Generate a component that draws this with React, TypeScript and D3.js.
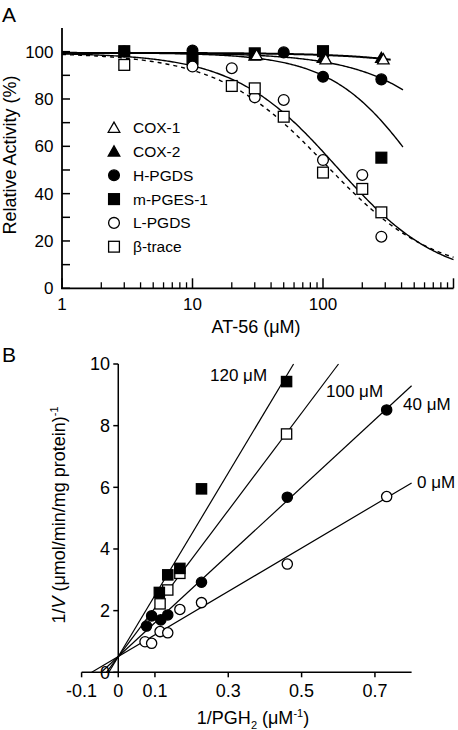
import React from 'react';
import * as d3 from 'd3';

// ---------- Panel A data ----------
const cox1X = [31, 105, 290];
const cox1Y = [98.6, 96.8, 96.8];
const cox2X = [30, 100, 280];
const cox2Y = [98.4, 97.4, 97.4];
const hpgdsX = [3, 10, 50, 100, 280];
const hpgdsY = [100, 100.5, 99.7, 89.4, 88.3];
const mpgesX = [3, 10, 30, 100, 280];
const mpgesY = [100.2, 97, 99.3, 100.2, 55.2];
const lpgdsX = [10, 20, 30, 50, 100, 200, 280];
const lpgdsY = [93.7, 93, 80.7, 79.6, 54.2, 47.9, 21.8];
const btraceX = [3, 20, 30, 50, 100, 200, 280];
const btraceY = [94.4, 85.5, 84.5, 72.5, 48.9, 42, 32.1];

// Hill fits (top, bottom, IC50, Hill slope, x range end, dashed)
const fitTop = [99.5, 99.5, 99.5, 99.5, 99.5];
const fitBottom = [0, 0, 0, 3, 5];
const fitIC50 = [11000, 1890, 560, 127.7, 105];
const fitHill = [1, 1.1, 1.3, 1.1, 1.05];
const fitXmax = [330, 410, 410, 1000, 1000];
const fitDashed = [false, false, false, false, true];

const legendNames = ['COX-1', 'COX-2', 'H-PGDS', 'm-PGES-1', 'L-PGDS', 'β-trace'];
const legendShapes = ['triOpen', 'triFill', 'circFill', 'sqFill', 'circOpen', 'sqOpen'];

const yTicksA = [0, 10, 20, 30, 40, 50, 60, 70, 80, 90, 100];
const xMajorA = [1, 10, 100, 1000];
const xLabelsA = ['1', '10', '100'];

// ---------- Panel B data ----------
const b0X = [0.073, 0.091, 0.114, 0.135, 0.168, 0.227, 0.461, 0.732];
const b0Y = [0.99, 0.94, 1.32, 1.28, 2.04, 2.26, 3.51, 5.70];
const b40X = [0.077, 0.091, 0.116, 0.135, 0.227, 0.461, 0.732];
const b40Y = [1.50, 1.83, 1.70, 1.86, 2.92, 5.68, 8.51];
const b100X = [0.114, 0.135, 0.168, 0.459];
const b100Y = [2.22, 2.67, 3.21, 7.73];
const b120X = [0.112, 0.135, 0.168, 0.227, 0.459];
const b120Y = [2.59, 3.16, 3.37, 5.95, 9.43];

const lineIntercept = 0.51;
const lineSlopes = [7.04, 10.98, 15.8, 19.85];
const lineLabels = ['0 μM', '40 μM', '100 μM', '120 μM'];

const xTicksB = [-0.1, 0, 0.1, 0.3, 0.5, 0.7];
const xTickLabelsB = ['-0.1', '0', '0.1', '0.3', '0.5', '0.7'];
const yTicksB = [0, 2, 4, 6, 8, 10];

const FONT = 'Liberation Sans, Arial, Helvetica, sans-serif';

function Marker({ shape, x, y, s = 1 }: { shape: string; x: number; y: number; s?: number }) {
  const sw = 1.3;
  if (shape === 'circFill' || shape === 'circOpen') {
    return (
      <circle cx={x} cy={y} r={5.4 * s} fill={shape === 'circFill' ? '#000' : '#fff'} stroke="#000" strokeWidth={sw} />
    );
  }
  if (shape === 'sqFill' || shape === 'sqOpen') {
    const h = 5.4 * s;
    return (
      <rect x={x - h} y={y - h} width={2 * h} height={2 * h} fill={shape === 'sqFill' ? '#000' : '#fff'} stroke="#000" strokeWidth={sw} />
    );
  }
  const w = 5.8 * s;
  const p = `M${x},${y - 5.6 * s}L${x + w},${y + 4.6 * s}L${x - w},${y + 4.6 * s}Z`;
  return <path d={p} fill={shape === 'triFill' ? '#000' : '#fff'} stroke="#000" strokeWidth={sw} strokeLinejoin="miter" />;
}

export default function App() {
  const xA = d3.scaleLog().domain([1, 1000]).range([62, 453.5]);
  const yA = d3.scaleLinear().domain([0, 110]).range([288.3, 28]);
  const xB = d3.scaleLinear().domain([-0.1, 0.8]).range([81.6, 411.6]);
  const yB = d3.scaleLinear().domain([0, 10]).range([672.3, 364]);

  const lineA = d3.line<[number, number]>().x((d) => xA(d[0])).y((d) => yA(d[1])).curve(d3.curveLinear);

  const fits = fitTop.map((top, i) => {
    const xs = d3.range(0, Math.log10(fitXmax[i]) + 1e-9, 0.01).map((e) => Math.pow(10, e));
    if (xs[xs.length - 1] < fitXmax[i]) xs.push(fitXmax[i]);
    const pts: [number, number][] = xs.map((x) => [
      x,
      fitBottom[i] + (top - fitBottom[i]) / (1 + Math.pow(x / fitIC50[i], fitHill[i])),
    ]);
    return { d: lineA(pts) || '', dashed: fitDashed[i] };
  });

  const minorA: number[] = [];
  [1, 10, 100].forEach((dec) => {
    for (let k = 2; k <= 9; k++) minorA.push(dec * k);
  });

  const seriesA = [
    { shape: 'triFill', xs: cox2X, ys: cox2Y },
    { shape: 'sqFill', xs: mpgesX, ys: mpgesY },
    { shape: 'circFill', xs: hpgdsX, ys: hpgdsY },
    { shape: 'triOpen', xs: cox1X, ys: cox1Y },
    { shape: 'circOpen', xs: lpgdsX, ys: lpgdsY },
    { shape: 'sqOpen', xs: btraceX, ys: btraceY },
  ];

  const seriesB = [
    { shape: 'circOpen', xs: b0X, ys: b0Y },
    { shape: 'circFill', xs: b40X, ys: b40Y },
    { shape: 'sqOpen', xs: b100X, ys: b100Y },
    { shape: 'sqFill', xs: b120X, ys: b120Y },
  ];

  const lineB = d3.line<[number, number]>().x((d) => xB(d[0])).y((d) => yB(d[1]));
  const linesB = lineSlopes.map((m) => {
    const x0 = -lineIntercept / m;
    const x1 = Math.min(0.8, (10 - lineIntercept) / m);
    return lineB([
      [x0, 0],
      [x1, lineIntercept + m * x1],
    ]) || '';
  });
  const labelPos: [number, number][] = [
    [417, 488],
    [403, 410],
    [326, 397],
    [210, 381],
  ];

  return (
    <svg
      width={458}
      height={730}
      viewBox="0 0 458 730"
      style={{ position: 'absolute', left: 0, top: 0, background: '#fff' }}
      fontFamily={FONT}
    >
      <rect x={0} y={0} width={458} height={730} fill="#fff" />
      {/* ---------------- Panel A ---------------- */}
      <text x={2} y={21.5} fontSize={21}>A</text>
      {/* axes */}
      <line x1={xA(1)} x2={xA(1)} y1={yA(0)} y2={yA(110)} stroke="#000" strokeWidth={1.8} />
      <line x1={xA(1) - 1} x2={xA(1000)} y1={yA(0)} y2={yA(0)} stroke="#000" strokeWidth={1.8} />
      {yTicksA.map((t) => (
        <line key={'yta' + t} x1={xA(1)} x2={xA(1) + 8} y1={yA(t)} y2={yA(t)} stroke="#000" strokeWidth={1.5} />
      ))}
      {yTicksA.filter((t) => t % 20 === 0).map((t) => (
        <text key={'ytla' + t} x={53.5} y={yA(t) + 6} fontSize={17} textAnchor="end">
          {t}
        </text>
      ))}
      {xMajorA.map((t) => (
        <line key={'xma' + t} x1={xA(t)} x2={xA(t)} y1={yA(0)} y2={yA(0) - 10} stroke="#000" strokeWidth={1.5} />
      ))}
      {minorA.map((t) => (
        <line key={'xmi' + t} x1={xA(t)} x2={xA(t)} y1={yA(0)} y2={yA(0) - 6} stroke="#000" strokeWidth={1.3} />
      ))}
      {xLabelsA.map((l, i) => (
        <text key={'xla' + l} x={xA(xMajorA[i])} y={309.5} fontSize={17} textAnchor="middle">
          {l}
        </text>
      ))}
      <text x={256} y={333} fontSize={18} textAnchor="middle">AT-56 (μM)</text>
      <text transform="translate(15.5,155) rotate(-90)" fontSize={18} textAnchor="middle">
        Relative Activity (%)
      </text>
      {/* fits */}
      {fits.map((f, i) => (
        <path
          key={'fit' + i}
          d={f.d}
          fill="none"
          stroke="#000"
          strokeWidth={i === 0 ? 2 : 1.4}
          strokeDasharray={f.dashed ? '4 4' : undefined}
        />
      ))}
      {/* points */}
      {seriesA.map((s, si) =>
        s.xs.map((x, j) => <Marker key={'pa' + si + '-' + j} shape={s.shape} x={xA(x)} y={yA(s.ys[j])} />)
      )}
      {/* legend */}
      {legendNames.map((n, i) => {
        const cy = 127.7 + i * 23.8;
        return (
          <g key={'lg' + n}>
            <Marker shape={legendShapes[i]} x={114} y={cy} />
            <text x={133} y={cy + 5.5} fontSize={15.5}>
              {n}
            </text>
          </g>
        );
      })}

      {/* ---------------- Panel B ---------------- */}
      <text x={2} y={361.5} fontSize={21}>B</text>
      <line x1={xB(0)} x2={xB(0)} y1={yB(0)} y2={yB(10)} stroke="#000" strokeWidth={1.5} />
      <line x1={xB(-0.1)} x2={xB(0.8)} y1={yB(0)} y2={yB(0)} stroke="#000" strokeWidth={1.5} />
      {yTicksB.map((t) => (
        <g key={'ytb' + t}>
          <line x1={xB(0) - 5} x2={xB(0)} y1={yB(t)} y2={yB(t)} stroke="#000" strokeWidth={1.5} />
          <text x={110} y={yB(t) + 6.3} fontSize={18} textAnchor="end">
            {t}
          </text>
        </g>
      ))}
      {xTicksB.map((t, i) => (
        <g key={'xtb' + t}>
          <line x1={xB(t)} x2={xB(t)} y1={yB(0)} y2={yB(0) + 5} stroke="#000" strokeWidth={1.5} />
          <text x={xB(t)} y={696.5} fontSize={18} textAnchor="middle">
            {xTickLabelsB[i]}
          </text>
        </g>
      ))}
      {linesB.map((d, i) => (
        <path key={'lb' + i} d={d} fill="none" stroke="#000" strokeWidth={1.2} />
      ))}
      {seriesB.map((s, si) =>
        s.xs.map((x, j) => <Marker key={'pb' + si + '-' + j} shape={s.shape} x={xB(x)} y={yB(s.ys[j])} s={0.95} />)
      )}
      {lineLabels.map((l, i) => (
        <text key={'ll' + i} x={labelPos[i][0]} y={labelPos[i][1]} fontSize={17}>
          {l}
        </text>
      ))}
      <text x={253} y={724} fontSize={18} textAnchor="middle">
        1/PGH<tspan fontSize={11} dy={5}>2</tspan>
        <tspan dy={-5}> (μM</tspan>
        <tspan fontSize={11} dy={-7}>-1</tspan>
        <tspan dy={7}>)</tspan>
      </text>
      <text transform="translate(65,515) rotate(-90)" fontSize={18} textAnchor="middle">
        1/<tspan fontStyle="italic">V</tspan> (μmol/min/mg protein)
        <tspan fontSize={11} dy={-7}>-1</tspan>
      </text>
    </svg>
  );
}
